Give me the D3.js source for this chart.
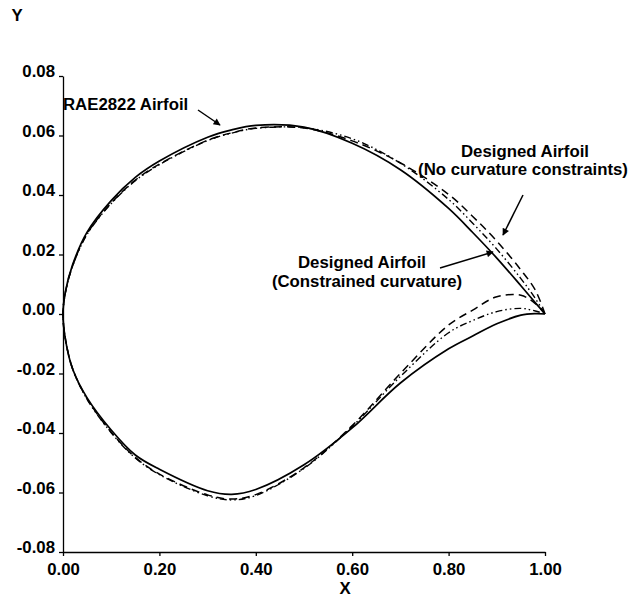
<!DOCTYPE html>
<html>
<head>
<meta charset="utf-8">
<script src="https://cdn.jsdelivr.net/npm/d3@7"></script>
<style>
  body { margin: 0; background: #fff; }
  svg text { font-family: "Liberation Sans", Arial, Helvetica, sans-serif; font-weight: bold; fill: #000; }
</style>
</head>
<body>
<svg id="chart" width="631" height="599"></svg>
<script>
// chord stations (x/c) shared by all three airfoils
var X_STATIONS = [0, 0.005, 0.02, 0.05, 0.1, 0.15, 0.2, 0.3, 0.35, 0.4, 0.5, 0.6, 0.7, 0.8, 0.85, 0.9, 0.95, 0.98, 1.0];

// RAE2822 (solid)
var RAE_UPPER = [0, 0.0075, 0.0166, 0.0275, 0.0381, 0.0459, 0.0514, 0.0594, 0.0619, 0.0634, 0.0628, 0.0574, 0.0485, 0.0355, 0.0274, 0.0188, 0.0095, 0.0038, 0];
var RAE_LOWER = [0, -0.0085, -0.0185, -0.0282, -0.0390, -0.0474, -0.0522, -0.0594, -0.0606, -0.0590, -0.0507, -0.0383, -0.0232, -0.0117, -0.0074, -0.0033, -0.0004, 0.0001, 0];

// Designed, no curvature constraints (dashed)
var UNC_UPPER = [0, 0.0072, 0.0162, 0.0270, 0.0373, 0.0450, 0.0504, 0.0584, 0.0609, 0.0625, 0.0625, 0.0582, 0.0508, 0.0402, 0.0328, 0.0245, 0.0148, 0.0080, 0];
var UNC_LOWER = [0, -0.0083, -0.0184, -0.0285, -0.0397, -0.0482, -0.0538, -0.0608, -0.0622, -0.0607, -0.0517, -0.0375, -0.0200, -0.0037, 0.0013, 0.0058, 0.0063, 0.0035, 0];

// Designed, constrained curvature (dash-dot-dot)
var CON_UPPER = [0, 0.0072, 0.0161, 0.0268, 0.0371, 0.0448, 0.0502, 0.0583, 0.0608, 0.0624, 0.0626, 0.0589, 0.0507, 0.0385, 0.0305, 0.0218, 0.0119, 0.0052, 0];
var CON_LOWER = [0, -0.0084, -0.0185, -0.0287, -0.0399, -0.0484, -0.0540, -0.0611, -0.0625, -0.0610, -0.0519, -0.0378, -0.0210, -0.0063, -0.0022, 0.0008, 0.0019, 0.0010, 0];

var X_TICKS = [0, 0.2, 0.4, 0.6, 0.8, 1.0];
var Y_TICKS = [0.08, 0.06, 0.04, 0.02, 0, -0.02, -0.04, -0.06, -0.08];

var FONT_SIZE = 16.8;
var svg = d3.select("#chart");

var xScale = d3.scaleLinear().domain([0, 1]).range([63, 545]);
var yScale = d3.scaleLinear().domain([-0.08, 0.08]).range([552, 76]);


function airfoilPoints(upper, lower)
{
  var pts = [];
  for (var i = X_STATIONS.length - 1; i >= 0; i--)
  {
    pts.push([X_STATIONS[i], upper[i]]);
  }
  for (var j = 1; j < X_STATIONS.length; j++)
  {
    pts.push([X_STATIONS[j], lower[j]]);
  }
  return pts;
}


function drawAxes()
{
  var xAxis = svg.append("g")
                 .attr("transform", "translate(0," + yScale(-0.08) + ")")
                 .call(d3.axisBottom(xScale)
                         .tickValues(X_TICKS)
                         .tickSize(4)
                         .tickPadding(7)
                         .tickSizeOuter(0)
                         .tickFormat(function(d) { return d.toFixed(2); }));

  var yAxis = svg.append("g")
                 .attr("transform", "translate(" + xScale(0) + ",0)")
                 .call(d3.axisLeft(yScale)
                         .tickValues(Y_TICKS)
                         .tickSize(4)
                         .tickPadding(4)
                         .tickSizeOuter(0)
                         .tickFormat(function(d) { return d.toFixed(2); }));

  [xAxis, yAxis].forEach(function(ax) {
    ax.selectAll("path, line").attr("stroke", "#000").attr("stroke-width", 1.3);
    ax.selectAll("text")
      .attr("font-size", FONT_SIZE + "px")
      .style("font-family", "'Liberation Sans', Arial, sans-serif")
      .style("font-weight", "bold")
      .attr("fill", "#000");
  });
  yAxis.selectAll("text").attr("dy", "0.05em");

  svg.append("text").text("X")
     .attr("x", 345).attr("y", 594)
     .attr("text-anchor", "middle")
     .attr("font-size", FONT_SIZE + "px");
  svg.append("text").text("Y")
     .attr("x", 17).attr("y", 21)
     .attr("text-anchor", "middle")
     .attr("font-size", FONT_SIZE + "px");
}


function drawCurves()
{
  var line = d3.line()
               .x(function(d) { return xScale(d[0]); })
               .y(function(d) { return yScale(d[1]); })
               .curve(d3.curveCatmullRom.alpha(0.5));

  var curves = [
    { pts: airfoilPoints(CON_UPPER, CON_LOWER), dash: "7,3,1.5,3,1.5,3", w: 1.4 },
    { pts: airfoilPoints(UNC_UPPER, UNC_LOWER), dash: "8,5", w: 1.5 },
    { pts: airfoilPoints(RAE_UPPER, RAE_LOWER), dash: null, w: 1.7 }
  ];

  curves.forEach(function(c) {
    svg.append("path")
       .attr("d", line(c.pts))
       .attr("fill", "none")
       .attr("stroke", "#000")
       .attr("stroke-width", c.w)
       .attr("stroke-dasharray", c.dash);
  });
}


function arrow(x1, y1, x2, y2)
{
  svg.append("line")
     .attr("x1", x1).attr("y1", y1)
     .attr("x2", x2).attr("y2", y2)
     .attr("stroke", "#000")
     .attr("stroke-width", 1.5)
     .attr("marker-end", "url(#head)");
}


function drawNotes()
{
  svg.append("defs").append("marker")
     .attr("id", "head")
     .attr("viewBox", "0 0 10 10")
     .attr("refX", 9).attr("refY", 5)
     .attr("markerWidth", 9).attr("markerHeight", 7)
     .attr("markerUnits", "userSpaceOnUse")
     .attr("orient", "auto")
     .append("path")
     .attr("d", "M0,0 L10,5 L0,10 Z")
     .attr("fill", "#000");

  svg.append("text").text("RAE2822 Airfoil")
     .attr("x", 63).attr("y", 110)
     .attr("font-size", FONT_SIZE + "px");
  arrow(198, 110, 220, 125);

  svg.append("text").text("Designed Airfoil")
     .attr("x", 525).attr("y", 157)
     .attr("text-anchor", "middle")
     .attr("font-size", FONT_SIZE + "px");
  svg.append("text").text("(No curvature constraints)")
     .attr("x", 523).attr("y", 175)
     .attr("text-anchor", "middle")
     .attr("font-size", FONT_SIZE + "px");
  arrow(523, 195, 503, 235);

  svg.append("text").text("Designed Airfoil")
     .attr("x", 362).attr("y", 268)
     .attr("text-anchor", "middle")
     .attr("font-size", FONT_SIZE + "px");
  svg.append("text").text("(Constrained curvature)")
     .attr("x", 367).attr("y", 287)
     .attr("text-anchor", "middle")
     .attr("font-size", FONT_SIZE + "px");
  arrow(440, 268, 493, 252);
}


drawAxes();
drawCurves();
drawNotes();
</script>
</body>
</html>
